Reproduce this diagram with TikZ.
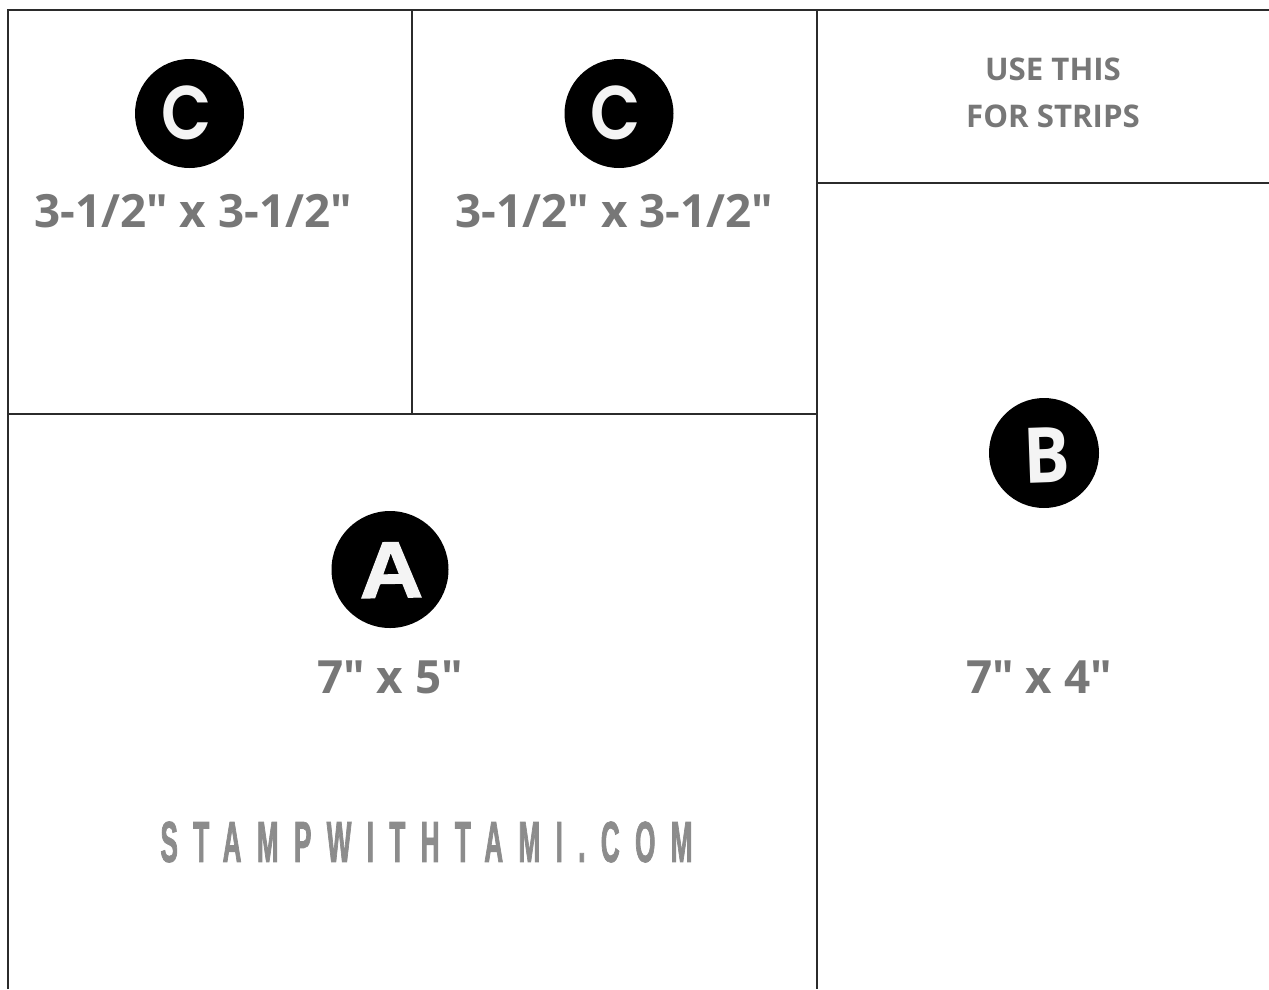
\documentclass[tikz,border=0pt]{standalone}
\usepackage{fontspec}
\setmainfont{Open Sans}[Ligatures=TeXOff]
\newfontfamily\popf{Poppins SemiBold}
\newfontfamily\libf[FakeBold=1.5]{Liberation Sans Bold}
\newfontfamily\condf[FakeStretch=0.45,LetterSpace=26.5,FakeBold=1.2]{Liberation Sans Bold}
\definecolor{inkline}{HTML}{2B2B2B}
\definecolor{labelgrey}{HTML}{777777}
\definecolor{wmgrey}{HTML}{8C8C8C}
\definecolor{badgeletter}{HTML}{F4F4F4}
\tikzset{
  panel/.style={draw=inkline,line width=2.8pt,line cap=butt},
  badge/.style={circle,fill=black,inner sep=0pt},
  badgetext/.style={text=badgeletter,inner sep=0pt},
  dimlabel/.style={text=labelgrey,font=\fontsize{45.8}{50}\selectfont\bfseries,inner sep=0pt,anchor=center},
  striplabel/.style={text=labelgrey,font=\fontsize{31.2}{47}\selectfont\bfseries,inner sep=0pt,align=center},
  watermark/.style={text=wmgrey,inner sep=0pt}
}
\begin{document}
\begin{tikzpicture}[x=1pt,y=-1pt]
\useasboundingbox (0,0) rectangle (1269,989);
\fill[white] (0,0) rectangle (1269,989);
% panels
\draw[panel] (8,989) -- (8,10) -- (1269,10);
\draw[panel] (412,10) -- (412,414);
\draw[panel] (817,10) -- (817,989);
\draw[panel] (8,414) -- (817,414);
\draw[panel] (817,183) -- (1269,183);
% badges
\node[badge,minimum size=109pt] (c1) at (189.5,113.5) {};
\node[badgetext,xscale=0.86] (c1t) at (186.5,113) {\popf\fontsize{76}{76}\selectfont C};
\node[badge,minimum size=109pt] (c2) at (619,113.5) {};
\node[badgetext,xscale=0.86] (c2t) at (616,113) {\popf\fontsize{76}{76}\selectfont C};
\node[badge,minimum size=117pt] (a) at (390,569.5) {};
\node[badgetext,rotate=1,xscale=1.1] (at) at (391,570) {\libf\fontsize{80}{80}\selectfont A};
\node[badge,minimum size=110pt] (b) at (1044,453) {};
\node[badgetext,rotate=2,xscale=0.9] (bt) at (1046.5,455) {\fontsize{77}{77}\selectfont\bfseries B};
% labels
\node[dimlabel] (l1) at (193,211) {3-1/2" x 3-1/2"};
\node[dimlabel] (l2) at (614.5,211) {3-1/2" x 3-1/2"};
\node[dimlabel] (l3) at (390,677) {7" x 5"};
\node[dimlabel] (l4) at (1039,677) {7" x 4"};
\node[striplabel] (s) at (1053,93) {USE THIS\\FOR STRIPS};
\node[watermark] (w) at (426.5,842) {\condf\fontsize{58}{58}\selectfont STAMPWITHTAMI.COM};
\end{tikzpicture}
\end{document}
